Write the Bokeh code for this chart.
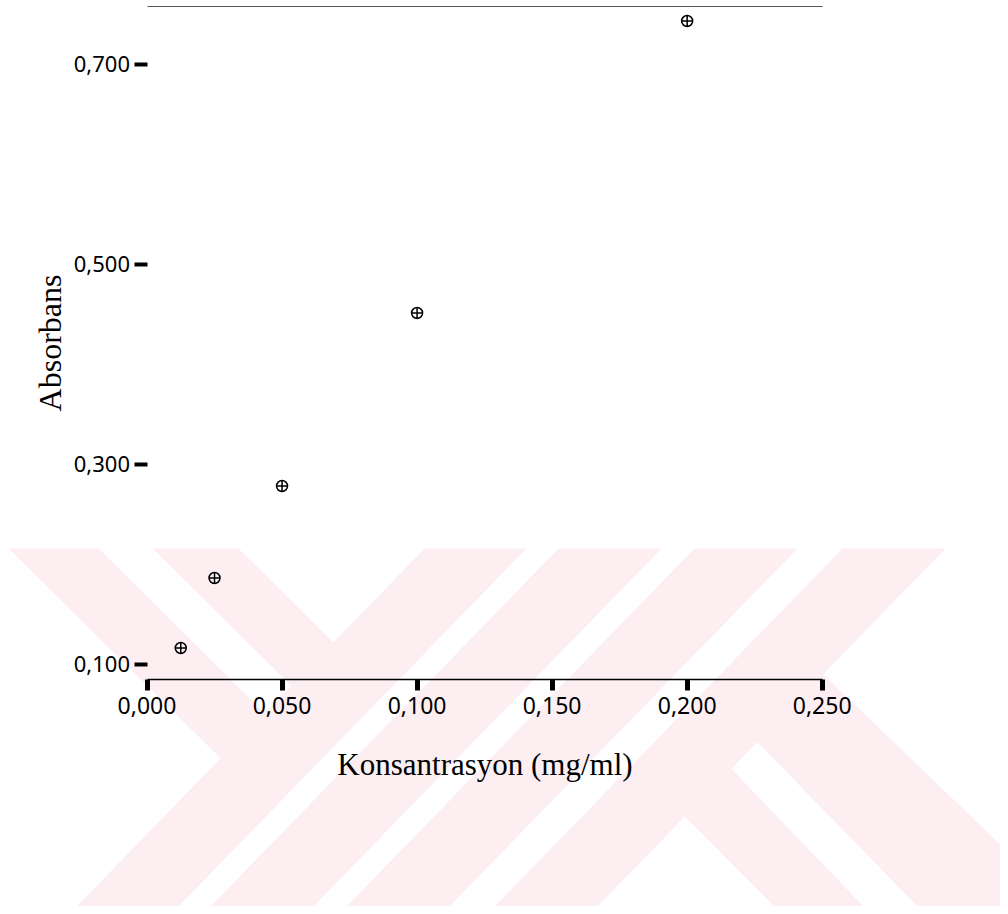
from bokeh.plotting import figure
from bokeh.models import Range1d, FixedTicker, LinearAxis, PolyAnnotation
from bokeh.embed import file_html
from bokeh.resources import INLINE

# ---- data ----
konsantrasyon = [0.0125, 0.025, 0.05, 0.1, 0.2]
absorbans = [0.116, 0.186, 0.278, 0.451, 0.743]

x_ticks = [0.0, 0.05, 0.10, 0.15, 0.20, 0.25]
x_tick_labels = ["0,000", "0,050", "0,100", "0,150", "0,200", "0,250"]
y_ticks = [0.1, 0.3, 0.5, 0.7]
y_tick_labels = ["0,100", "0,300", "0,500", "0,700"]

x_title = "Konsantrasyon (mg/ml)"
y_title = "Absorbans"

# ---- geometry of the page (pixels) ----
W, H = 1000, 906
X0_PX, X_PER_UNIT = 146.5, 2700.8      # pixel of x=0, pixels per x unit
Y01_PX, Y_PER_UNIT = 663.5, 1000.0     # pixel of y=0.1, pixels per y unit
AXIS_Y_PX, TOP_Y_PX = 679.3, 6.0

def x_of(px):
    return (px - X0_PX) / X_PER_UNIT

def y_of(py):
    return 0.1 + (Y01_PX - py) / Y_PER_UNIT

# ---- background watermark (decoration, canvas pixel coordinates) ----
WM_COLOR = "#fdeef2"
watermark_bands = [
    [(424, 548), (526, 548), (174.1, 910), (72.1, 910)],
    [(558, 548), (661, 548), (309.1, 910), (206.1, 910)],
    [(694, 548), (797, 548), (445.1, 910), (342.1, 910)],
    [(842, 548), (945, 548), (593.1, 910), (490.1, 910)],
    [(8, 548), (98, 548), (290.1, 738.2), (246, 783.6)],
    [(152, 548), (238, 548), (358.8, 667.6), (316.6, 711)],
    [(658.1, 790.1), (705.3, 741.6), (867, 910), (778, 910)],
    [(731, 715.3), (796.2, 648.2), (1068.5, 910), (921, 910)],
]

p = figure(width=W, height=H, output_backend="svg", toolbar_location=None,
           x_range=Range1d(x_of(0), x_of(W)), y_range=Range1d(y_of(H), y_of(0)),
           min_border=0)

p.background_fill_color = "white"
p.border_fill_color = "white"
p.outline_line_color = None
p.grid.visible = False

for band in watermark_bands:
    p.add_layout(PolyAnnotation(xs=[pt[0] for pt in band], ys=[pt[1] for pt in band],
                                xs_units="canvas", ys_units="canvas",
                                fill_color=WM_COLOR, fill_alpha=1.0,
                                line_color=None, level="underlay"))

p.scatter(konsantrasyon, absorbans, marker="circle_cross", size=11,
          line_color="black", fill_color=None, line_width=1.5)

tick_font = "Noto Sans"
x_lo, x_hi = x_ticks[0], x_ticks[-1]
y_axis_val = y_of(AXIS_Y_PX)
y_top_val = y_of(TOP_Y_PX)

xa = p.xaxis[0]
xa.fixed_location = y_axis_val
xa.bounds = (x_lo, x_hi)
xa.ticker = FixedTicker(ticks=x_ticks)
xa.major_label_overrides = {t: l for t, l in zip(x_ticks, x_tick_labels)}
xa.axis_line_color = "black"
xa.axis_line_width = 1.5
xa.major_tick_in = 0
xa.major_tick_out = 11
xa.major_tick_line_width = 5
xa.major_tick_line_color = "black"
xa.minor_tick_line_color = None
xa.major_label_text_font = tick_font
xa.major_label_text_font_size = "23px"
xa.major_label_text_color = "black"
xa.major_label_standoff = 6
xa.axis_label = x_title
xa.axis_label_text_font = "Liberation Serif"
xa.axis_label_text_font_size = "31px"
xa.axis_label_text_font_style = "normal"
xa.axis_label_text_color = "black"
xa.axis_label_standoff = 30

ya = p.yaxis[0]
ya.fixed_location = x_lo
ya.bounds = (y_axis_val, y_top_val)
ya.ticker = FixedTicker(ticks=y_ticks)
ya.major_label_overrides = {t: l for t, l in zip(y_ticks, y_tick_labels)}
ya.axis_line_color = None
ya.major_tick_in = 0
ya.major_tick_out = 13
ya.major_tick_line_width = 4
ya.major_tick_line_color = "black"
ya.minor_tick_line_color = None
ya.major_label_text_font = tick_font
ya.major_label_text_font_size = "22px"
ya.major_label_text_color = "black"
ya.major_label_standoff = 4
ya.axis_label = y_title
ya.axis_label_text_font = "Liberation Serif"
ya.axis_label_text_font_size = "32px"
ya.axis_label_text_font_style = "normal"
ya.axis_label_text_color = "black"
ya.axis_label_standoff = 3

top = LinearAxis(ticker=FixedTicker(ticks=[]), major_label_text_font_size="0px",
                 major_tick_out=0, major_tick_in=0, minor_tick_out=0, minor_tick_in=0,
                 major_label_standoff=0, axis_line_color="#555555", axis_line_width=1,
                 fixed_location=y_top_val, bounds=(x_lo, x_hi))
p.add_layout(top, "above")

open("out.html", "w").write(file_html(p, INLINE))
